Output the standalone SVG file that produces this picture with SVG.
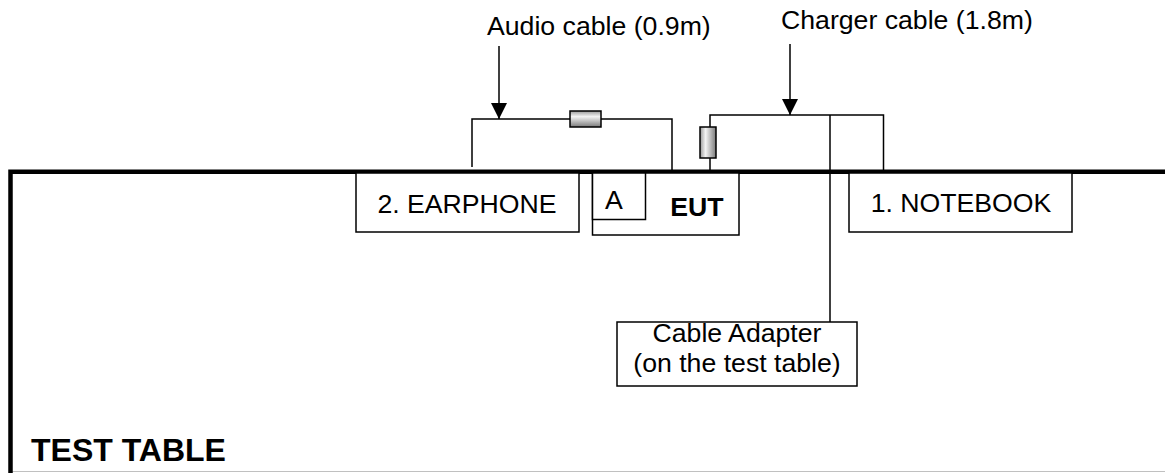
<svg xmlns="http://www.w3.org/2000/svg" width="1165" height="473" viewBox="0 0 1165 473">
  <style>
    .box { fill: #ffffff; stroke: #000000; stroke-width: 1.5; }
    .wire { fill: none; stroke: #000000; stroke-width: 1.5; }
    .lbl { font-family: "Liberation Sans", Arial, sans-serif; font-size: 26.67px; fill: #000000; }
    .bold { font-weight: bold; }
    .mid { text-anchor: middle; }
    .res { stroke: #000000; stroke-width: 1.5; }
  </style>
  <defs>
    <marker id="arrow" markerUnits="userSpaceOnUse" markerWidth="16" markerHeight="16" refX="16" refY="8" orient="auto" viewBox="0 0 16 16">
      <path d="M0,0 L16,8 L0,16 Z" fill="#000000"/>
    </marker>
    <linearGradient id="gradH" x1="0" y1="0" x2="0" y2="1">
      <stop offset="0" stop-color="#9a9a9a"/>
      <stop offset="0.35" stop-color="#f4f4f4"/>
      <stop offset="1" stop-color="#7a7a7a"/>
    </linearGradient>
    <linearGradient id="gradV" x1="0" y1="0" x2="1" y2="0">
      <stop offset="0" stop-color="#9a9a9a"/>
      <stop offset="0.35" stop-color="#f4f4f4"/>
      <stop offset="1" stop-color="#7a7a7a"/>
    </linearGradient>
  </defs>
  <rect x="0" y="0" width="1165" height="473" fill="#ffffff"/>

  <g id="test-table">
    <line x1="10.5" y1="471.5" x2="1165" y2="471.5" stroke="#c0c0c0" stroke-width="1"/>
    <path d="M10.5,473 L10.5,171.7 L1165,171.7" fill="none" stroke="#000000" stroke-width="4.5"/>
    <text class="lbl bold" x="31" y="461" style="font-size:32px">TEST TABLE</text>
  </g>

  <g id="connectors">
    <polyline class="wire" points="472,167 472,119 672,119 672,172"/>
    <rect class="res" x="570" y="111" width="31" height="16" fill="url(#gradH)"/>
    <polyline class="wire" points="710,172 710,115 883.5,115 883.5,172"/>
    <line class="wire" x1="830" y1="115" x2="830" y2="322"/>
    <rect class="res" x="700" y="127" width="16" height="31" fill="url(#gradV)"/>
    <line class="wire" x1="499" y1="46" x2="499" y2="119" marker-end="url(#arrow)"/>
    <line class="wire" x1="790" y1="44" x2="790" y2="115" marker-end="url(#arrow)"/>
  </g>

  <g id="audio-cable-label">
    <text class="lbl" x="487" y="35">Audio cable (0.9m)</text>
  </g>
  <g id="charger-cable-label">
    <text class="lbl" x="781" y="29">Charger cable (1.8m)</text>
  </g>

  <g id="earphone">
    <rect class="box" x="356" y="173" width="223" height="59"/>
    <text class="lbl mid" x="467" y="213">2. EARPHONE</text>
  </g>

  <g id="eut">
    <rect class="box" x="592.5" y="173" width="146.5" height="62"/>
    <text class="lbl bold mid" x="697" y="216">EUT</text>
  </g>

  <g id="port-a">
    <rect class="box" x="592.5" y="173" width="53" height="46.5"/>
    <text class="lbl mid" x="614" y="209">A</text>
  </g>

  <g id="notebook">
    <rect class="box" x="849" y="173" width="223" height="59"/>
    <text class="lbl mid" x="961" y="212">1. NOTEBOOK</text>
  </g>

  <g id="cable-adapter">
    <rect class="box" x="617" y="322" width="240" height="64"/>
    <text class="lbl mid" x="737" y="342">Cable Adapter</text>
    <text class="lbl mid" x="737" y="372">(on the test table)</text>
  </g>
</svg>
